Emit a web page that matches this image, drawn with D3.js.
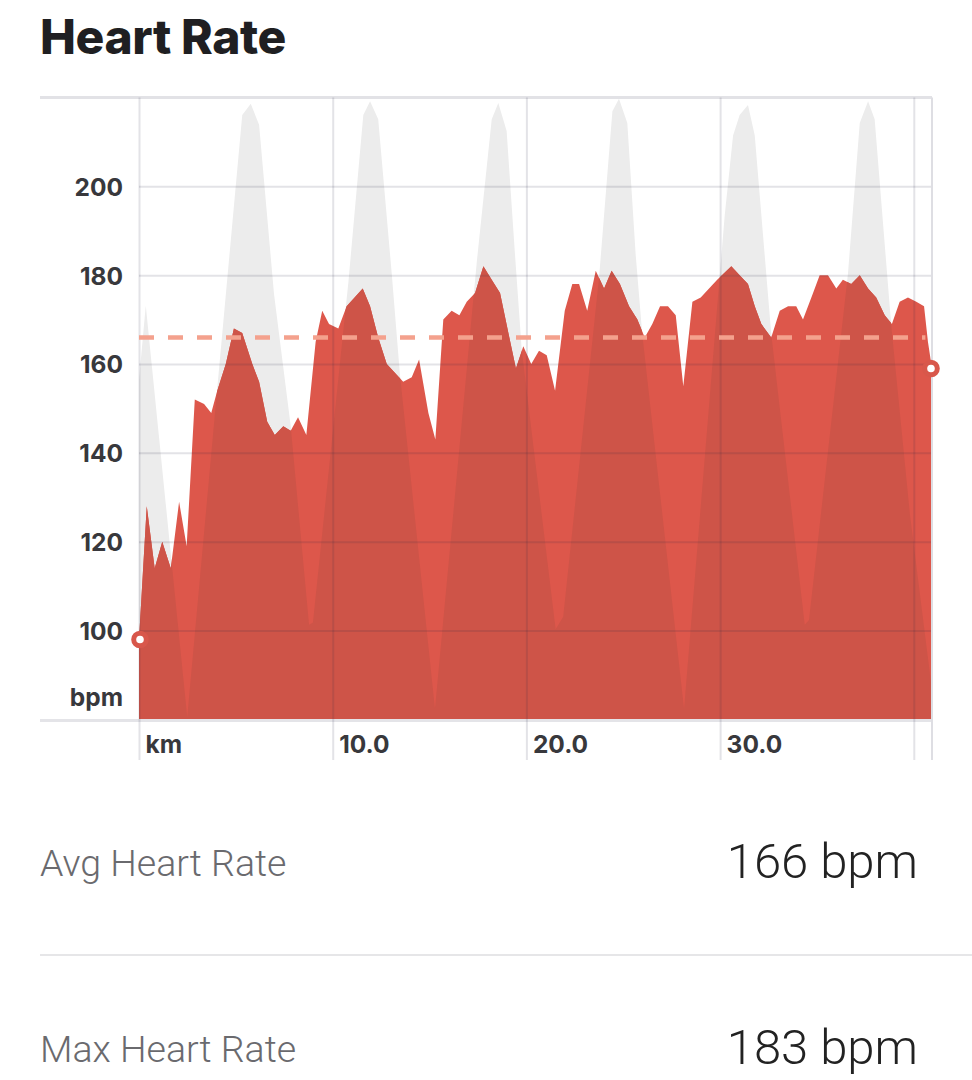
<!DOCTYPE html>
<html>
<head>
<meta charset="utf-8">
<script src="https://cdn.jsdelivr.net/npm/d3@7"></script>
<style>
  html, body { margin: 0; padding: 0; background: #fff; }
  svg { display: block; }
</style>
</head>
<body>
<svg id="chart" width="972" height="1080"></svg>
<script>
// ---------- DATA ----------
const title = "Heart Rate";
// heart rate series (distance km, bpm)
const hrKm = [0, 0.40, 0.81, 1.20, 1.64, 2.07, 2.46, 2.88, 3.36, 3.73, 4.04, 4.48, 4.90, 5.33, 5.85, 6.20, 6.62, 7.01, 7.45, 7.83, 8.21, 8.64, 9.12, 9.46, 9.81,
  10.29, 10.72, 11.55, 11.93, 12.35, 12.79, 13.22, 13.64, 14.08, 14.46, 14.94, 15.30, 15.71, 16.14, 16.54, 16.92, 17.35, 17.78, 18.21, 18.64, 19.07, 19.46, 19.84,
  20.25, 20.65, 21.05, 21.48, 21.98, 22.37, 22.72, 23.14, 23.58, 24.01, 24.40, 24.83, 25.30, 25.73, 26.11, 26.50, 26.90, 27.31, 27.71, 28.10, 28.57, 29.00, 29.43, 29.85,
  30.58, 31.01, 31.44, 31.79, 32.13, 32.64, 33.08, 33.51, 33.93, 34.28, 34.80, 35.14, 35.57, 36.00, 36.34, 36.77, 37.21, 37.64, 38.06, 38.50, 38.87, 39.27, 39.70,
  40.13, 40.53, 40.73, 40.94];
const hrBpm = [98, 128, 114, 120, 114, 129, 119, 152, 151, 149, 154, 160, 168, 167, 160, 156, 147, 144, 146, 145, 148, 144, 165, 172, 169,
  168, 173, 177, 173, 166, 160, 158, 156, 157, 161, 149, 143, 170, 172, 171, 174, 176, 182, 179, 176, 167, 159, 164,
  160, 163, 162, 154, 172, 178, 178, 172, 181, 177, 181, 178, 173, 170, 166, 169, 173, 173, 171, 155, 174, 175, 177, 179,
  182, 180, 178, 173, 169, 166, 172, 173, 173, 170, 176, 180, 180, 177, 179, 178, 180, 177, 175, 171, 169, 174, 175,
  174, 173, 165, 159];
// elevation profile (distance km, relative elevation 0-100)
const elevKm = [0, 0.35, 2.49, 5.33, 5.77, 6.20, 6.97, 7.83, 8.78, 8.98, 10.81, 11.58, 11.93, 12.35, 13.05, 13.47, 15.28, 17.44, 18.21, 18.55, 18.98, 19.41, 19.76,
  21.51, 21.90, 23.75, 24.44, 24.78, 25.21, 25.64, 25.98, 28.14, 30.24, 30.67, 31.01, 31.44, 31.79, 32.13, 32.64, 34.37, 34.59, 36.60, 37.21, 37.64, 37.98, 38.84, 39.80, 40.94];
const elevVal = [54.6, 66.5, 0.4, 97.2, 99.0, 95.6, 68.4, 47.2, 15.2, 15.6, 70.3, 97.2, 99.4, 96.5, 71.6, 55.5, 1.7, 73.6, 96.5, 99.1, 94.6, 74.8, 59.4,
  14.5, 16.5, 71.0, 97.8, 99.8, 95.9, 74.8, 62.0, 1.7, 81.1, 93.9, 97.2, 98.8, 93.9, 81.1, 62.0, 15.2, 16.0, 71.6, 95.9, 99.4, 96.5, 63.2, 33.0, 4.7];
const yTicks = [100, 120, 140, 160, 180, 200];
const xTicks = [0, 10, 20, 30, 40];
const xTickLabels = ["km", "10.0", "20.0", "30.0", ""];
const yUnit = "bpm";
const avgHeartRate = 166;
const maxHeartRate = 183;
const statLabels = ["Avg Heart Rate", "Max Heart Rate"];
const statValues = [avgHeartRate, maxHeartRate];

// ---------- LAYOUT ----------
const svg = d3.select("#chart");
const L = 139, R = 932, T = 97.5, B = 719.4;
const x = d3.scaleLinear().domain([0, 40.94]).range([L, R]);
const y = d3.scaleLinear().domain([80, 220]).range([B, T]);
const ye = d3.scaleLinear().domain([0, 100]).range([B, T]);

const hr = hrKm.map((k, i) => ({ km: k, v: hrBpm[i] }));
const el = elevKm.map((k, i) => ({ km: k, v: elevVal[i] }));

// title
svg.append("text").attr("x", 40).attr("y", 54)
  .attr("font-family", "Inter, 'Liberation Sans', sans-serif")
  .attr("font-weight", 800).attr("font-size", 48).attr("letter-spacing", -0.4)
  .attr("fill", "#1f1f22").text(title);

const defs = svg.append("defs");
defs.append("clipPath").attr("id", "plotClip").append("rect")
  .attr("x", L).attr("y", T).attr("width", R - L).attr("height", B - T);

const hrArea = d3.area().x(d => x(d.km)).y0(y(80)).y1(d => y(d.v));
const elArea = d3.area().x(d => x(d.km)).y0(ye(0)).y1(d => ye(d.v));

defs.append("clipPath").attr("id", "hrClip").append("path").attr("d", hrArea(hr));

const plot = svg.append("g").attr("clip-path", "url(#plotClip)");
plot.append("path").attr("d", elArea(el)).attr("fill", "#ececec");
plot.append("path").attr("d", hrArea(hr)).attr("fill", "#dd574b");
plot.append("g").attr("clip-path", "url(#hrClip)")
  .append("path").attr("d", elArea(el)).attr("fill", "#ce5448");

// frame lines
svg.append("line").attr("x1", 40).attr("x2", R).attr("y1", T).attr("y2", T)
  .attr("stroke", "#e2e2e6").attr("stroke-width", 3);
svg.append("line").attr("x1", 40).attr("x2", R).attr("y1", 720.5).attr("y2", 720.5)
  .attr("stroke", "#e4e4e8").attr("stroke-width", 3);

// horizontal gridlines via axis
const gridY = svg.append("g").attr("transform", `translate(${L},0)`)
  .call(d3.axisLeft(y).tickValues(yTicks).tickSize(-(R - L)).tickFormat(""));
gridY.select(".domain").remove();
gridY.selectAll("line").attr("stroke", "rgba(40,40,70,0.13)").attr("stroke-width", 2);

// vertical gridlines via axis (extending below plot as ticks)
const gridX = svg.append("g").attr("transform", `translate(0,${T})`)
  .call(d3.axisBottom(x).tickValues(xTicks).tickSize(760 - T).tickFormat(""));
gridX.select(".domain").remove();
gridX.selectAll("line").attr("stroke", "rgba(40,40,70,0.13)").attr("stroke-width", 2);
svg.append("line").attr("x1", R).attr("x2", R).attr("y1", T).attr("y2", 760)
  .attr("stroke", "#dedee3").attr("stroke-width", 2);

// average dashed line
svg.append("line").attr("x1", x(0)).attr("x2", x(40.6))
  .attr("y1", y(avgHeartRate)).attr("y2", y(avgHeartRate))
  .attr("stroke", "#f4a18d").attr("stroke-width", 4.5).attr("stroke-dasharray", "15,14");

// y axis labels
const yAxis = svg.append("g").attr("transform", "translate(123,0)")
  .call(d3.axisLeft(y).tickValues(yTicks).tickSize(0).tickPadding(0));
yAxis.select(".domain").remove();
yAxis.selectAll("text")
  .attr("font-family", "Inter, sans-serif").attr("font-weight", 700)
  .attr("font-size", 24.5).attr("fill", "#38383c").attr("dy", "0.36em");
svg.append("text").attr("x", 123).attr("y", 706).attr("text-anchor", "end")
  .attr("font-family", "Inter, sans-serif").attr("font-weight", 700)
  .attr("font-size", 24.5).attr("fill", "#38383c").text(yUnit);

// x axis labels
const xAxis = svg.append("g").attr("transform", "translate(0,753)")
  .call(d3.axisBottom(x).tickValues(xTicks).tickSize(0).tickPadding(0)
    .tickFormat((d, i) => xTickLabels[i]));
xAxis.select(".domain").remove();
xAxis.selectAll("text")
  .attr("text-anchor", "start").attr("dx", 6).attr("dy", 0).attr("y", 0)
  .attr("font-family", "Inter, sans-serif").attr("font-weight", 700)
  .attr("font-size", 24.5).attr("fill", "#38383c");

// start / end markers
const ends = [hr[0], hr[hr.length - 1]];
svg.selectAll("circle.marker").data(ends).join("circle").attr("class", "marker")
  .attr("cx", d => Math.min(x(d.km) + 1, R - 1)).attr("cy", d => y(d.v)).attr("r", 6.3)
  .attr("fill", "#fff").attr("stroke", "#d8574b").attr("stroke-width", 5);

// stats
const statY = [876, 1062];
statLabels.forEach((lab, i) => {
  svg.append("text").attr("x", 40).attr("y", statY[i])
    .attr("font-family", "Roboto, sans-serif").attr("font-weight", 300)
    .attr("font-size", 37.5).attr("fill", "#6a6a6e").text(lab);
  svg.append("text").attr("x", 918).attr("y", statY[i] + 2).attr("text-anchor", "end")
    .attr("font-family", "Roboto, sans-serif").attr("font-weight", 300)
    .attr("font-size", 49).attr("fill", "#222").text(statValues[i] + " bpm");
});
svg.append("line").attr("x1", 40).attr("x2", 972).attr("y1", 955).attr("y2", 955)
  .attr("stroke", "#e6e6e8").attr("stroke-width", 2);
</script>
</body>
</html>
